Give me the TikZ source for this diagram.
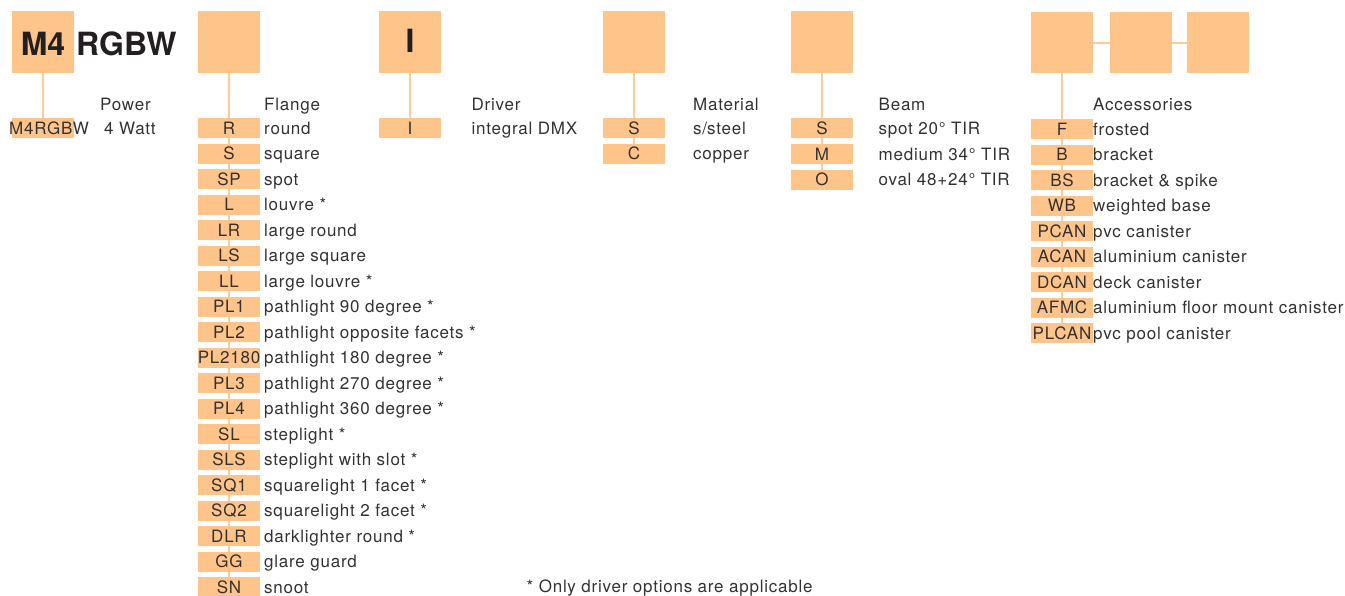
\documentclass[tikz,border=0pt]{standalone}
\usepackage{fontspec}
\setmainfont{TeX Gyre Heros}
\newfontfamily\labfont{TeX Gyre Heros}[LetterSpace=4.5]
\usetikzlibrary{backgrounds}
\definecolor{boxc}{RGB}{254,196,138}
\definecolor{linec}{RGB}{254,204,156}
\definecolor{ink}{RGB}{35,31,32}
\definecolor{labink}{RGB}{52,49,50}
\begin{document}
\begin{tikzpicture}[x=1pt,y=-1pt,
  bigbox/.style={fill=boxc, minimum width=61.5pt, minimum height=61.5pt, inner sep=0pt},
  opt/.style={fill=boxc, minimum width=61.5pt, minimum height=20pt, inner sep=0pt,
    text height=12.2pt, text depth=0pt, font=\labfont\fontsize{17}{17}\selectfont, text=labink},
  lbl/.style={anchor=base west, inner sep=0pt, font=\labfont\fontsize{17}{17}\selectfont, text=labink},
  conn/.style={draw=linec, line width=1.7pt},
  ttl/.style={inner sep=0pt, font=\bfseries\fontsize{32}{32}\selectfont, text=ink}]
\useasboundingbox (0,0) rectangle (1345,595);

% big boxes
\node[bigbox] (b1) at (43,42) {};
\node[bigbox] (b2) at (229,42) {};
\node[bigbox] (b3) at (410,42) {};
\node[bigbox] (b4) at (634,42) {};
\node[bigbox] (b5) at (822,42) {};
\node[bigbox] (b6) at (1062,42.5) {};
\node[bigbox] (b7) at (1141,42.5) {};
\node[bigbox] (b8) at (1218,42.5) {};

\node[ttl, anchor=base] (m4) at (43,55) {M4};
\node[ttl, anchor=base west] (rgbw) at (76,55) {RGBW};
\node[ttl, anchor=base] (drvI) at (410,52.5) {I};

% power
\node[opt] (p0) at (43,128) {};
\node[lbl] (m4t) at (9,134.1) {M4RGBW};
\node[lbl] (pwh) at (100,110) {Power};
\node[lbl] (pwt) at (104,134.1) {4 Watt};

% flange
\node[lbl] (flh) at (264,110) {Flange};
\foreach \c/\t [count=\i from 0] in {R/round, S/square, SP/spot, L/louvre *, LR/large round,
  LS/large square, LL/large louvre *, PL1/pathlight 90 degree *, PL2/pathlight opposite facets *,
  PL2180/pathlight 180 degree *, PL3/pathlight 270 degree *, PL4/pathlight 360 degree *,
  SL/steplight *, SLS/steplight with slot *, SQ1/squarelight 1 facet *, SQ2/squarelight 2 facet *,
  DLR/darklighter round *, GG/glare guard, SN/snoot} {
  \node[opt] (fl\i) at (229,128+25.5*\i) {\c};
  \node[lbl] (flt\i) at (264,134.1+25.5*\i) {\t};
}

% driver
\node[lbl] (drh) at (471.5,110) {Driver};
\node[opt] (dr0) at (410,128) {I};
\node[lbl] (drt0) at (471.5,134.1) {integral DMX};

% material
\node[lbl] (mah) at (693,110) {Material};
\foreach \c/\t [count=\i from 0] in {S/s\slash steel, C/copper} {
  \node[opt] (ma\i) at (634,128.3+25.5*\i) {\c};
  \node[lbl] (mat\i) at (693,134.4+25.5*\i) {\t};
}

% beam
\node[lbl] (beh) at (878.5,110) {Beam};
\foreach \c/\t [count=\i from 0] in {S/spot 20° TIR, M/medium 34° TIR, O/oval 48+24° TIR} {
  \node[opt] (be\i) at (822,128.3+25.7*\i) {\c};
  \node[lbl] (bet\i) at (878.5,134.4+25.7*\i) {\t};
}

% accessories
\node[lbl] (ach) at (1093,110) {Accessories};
\foreach \c/\t [count=\i from 0] in {F/frosted, B/bracket, BS/bracket \& spike, WB/weighted base,
  PCAN/pvc canister, ACAN/aluminium canister, DCAN/deck canister,
  AFMC/aluminium floor mount canister, PLCAN/pvc pool canister} {
  \node[opt] (ac\i) at (1062,129+25.5*\i) {\c};
  \node[lbl] (act\i) at (1093,135.1+25.5*\i) {\t};
}

\node[lbl] (note) at (526.5,592) {* Only driver options are applicable};

\begin{scope}[on background layer]
  \draw[conn] (b1.south) -- (p0.center);
  \draw[conn] (b2.south) -- (fl18.center);
  \draw[conn] (b3.south) -- (dr0.center);
  \draw[conn] (b4.south) -- (ma1.center);
  \draw[conn] (b5.south) -- (be2.center);
  \draw[conn] (b6.south) -- (ac8.center);
  \draw[conn] (b6.east |- 0,43) -- (b7.west |- 0,43);
  \draw[conn] (b7.east |- 0,43) -- (b8.west |- 0,43);
\end{scope}
\end{tikzpicture}
\end{document}
